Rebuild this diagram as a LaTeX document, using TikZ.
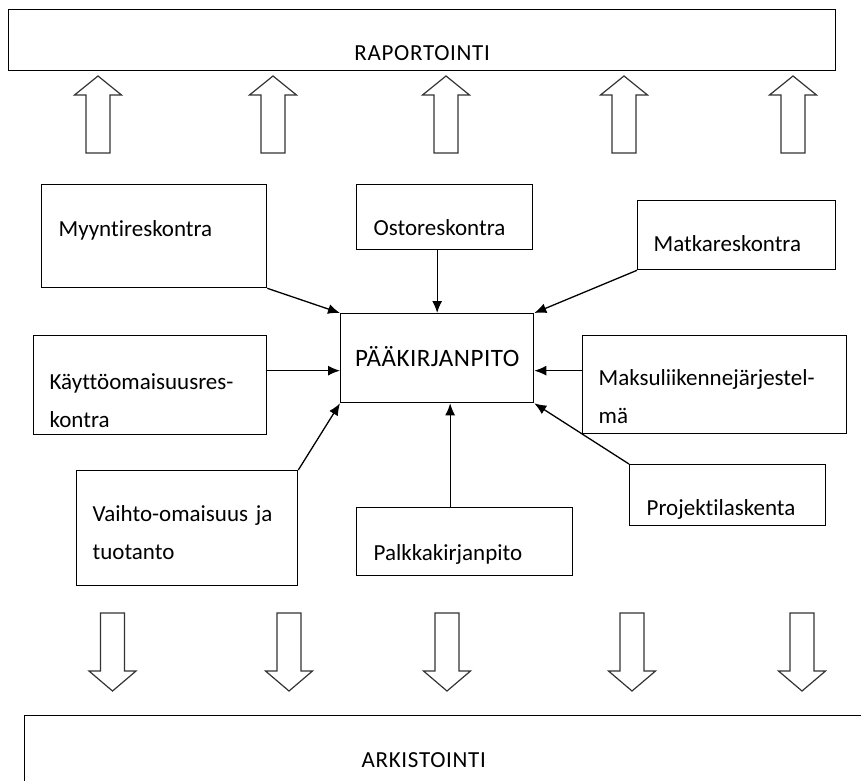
\documentclass[tikz,border=0pt]{standalone}
\usepackage{fontspec}
\setmainfont[Ligatures=NoCommon]{Carlito}
\usetikzlibrary{arrows.meta}

\begin{document}
\begin{tikzpicture}[x=1pt,y=-1pt,
    box/.style={draw=black,line width=1.3pt,anchor=north west,align=left,inner ysep=0pt,
                font=\fontsize{23}{38}\selectfont},
    caps/.style={align=center,inner xsep=0pt,font=\fontsize{23}{38}\selectfont\addfontfeatures{LetterSpace=3}},
    conn/.style={-{Latex[length=12pt,width=10pt]},line width=1.3pt},
    blockarrow/.style={draw=black!80,line width=1.2pt,line join=miter}]
    \useasboundingbox (0,0) rectangle (861,780);
    \clip (0,0) rectangle (861,780);

    \node[box,caps,text width=827pt,text height=51pt,text depth=10pt] (rap) at (8,9) {RAPORTOINTI};

    \node[box,inner xsep=17pt,text width=191pt,text height=52pt,text depth=51pt] (myynti) at (41,184) {Myyntireskontra};
    \node[box,inner xsep=17pt,text width=142pt,text height=51pt,text depth=14pt] (osto) at (356,184) {Ostoreskontra};
    \node[box,inner xsep=16pt,text width=166pt,text height=51pt,text depth=18pt] (matka) at (637,200) {Matkareskontra};
    \node[box,caps,font=\fontsize{25}{38}\selectfont\addfontfeatures{LetterSpace=2},text width=193pt,text height=53pt,text depth=36pt] (paa) at (340,313) {PÄÄKIRJANPITO};
    \node[box,inner xsep=16pt,text width=201pt,text height=54pt,text depth=45pt] (kaytto) at (33,335) {Käyttöomaisuusres-\\kontra};
    \node[box,inner xsep=16pt,text width=232pt,text height=50pt,text depth=48pt] (maksu) at (582,335) {Maksuliikennejärjestel-\\mä};
    \node[box,inner xsep=16pt,text width=189pt,text height=51pt,text depth=64pt] (vaihto) at (76,470) {Vaihto-omaisuus ja\\tuotanto};
    \node[box,inner xsep=17pt,text width=182pt,text height=53pt,text depth=15pt] (palkka) at (356,507) {Palkkakirjanpito};
    \node[box,inner xsep=17pt,text width=162pt,text height=51pt,text depth=10pt] (projekti) at (629,464) {Projektilaskenta};

    \node[box,caps,align=left,inner xsep=337pt,text width=300pt,text height=52pt,text depth=100pt] (ark) at (24,715) {ARKISTOINTI};

    \coordinate (pw) at ([yshift=-12.5pt]paa.west);
    \coordinate (pe) at ([yshift=-12.5pt]paa.east);
    \coordinate (ps) at ([xshift=13pt]paa.south);

    \path [conn] (myynti.south east) edge (paa.north west);
    \path [conn] (paa.north |- osto.south) edge (paa.north);
    \path [conn] (matka.south west) edge (paa.north east);
    \path [conn] (kaytto.east |- pw) edge (pw);
    \path [conn] (maksu.west |- pe) edge (pe);
    \path [conn] (vaihto.north east) edge (paa.south west);
    \path [conn] (ps |- palkka.north) edge (ps);
    \path [conn] (projekti.north west) edge (paa.south east);

    % nuolet ylos ja alas
    \foreach \x in {98,273,446,624,793}
        \draw[blockarrow] (\x,76) -- ++(23.5,19) -- ++(-11.5,0) -- ++(0,58) -- ++(-24,0) -- ++(0,-58) -- ++(-11.5,0) -- cycle;
    \foreach \x in {112.5,289,447,632,802}
        \draw[blockarrow] (\x,691) -- ++(23.5,-20) -- ++(-11.5,0) -- ++(0,-58) -- ++(-24,0) -- ++(0,58) -- ++(-11.5,0) -- cycle;
\end{tikzpicture}
\end{document}
